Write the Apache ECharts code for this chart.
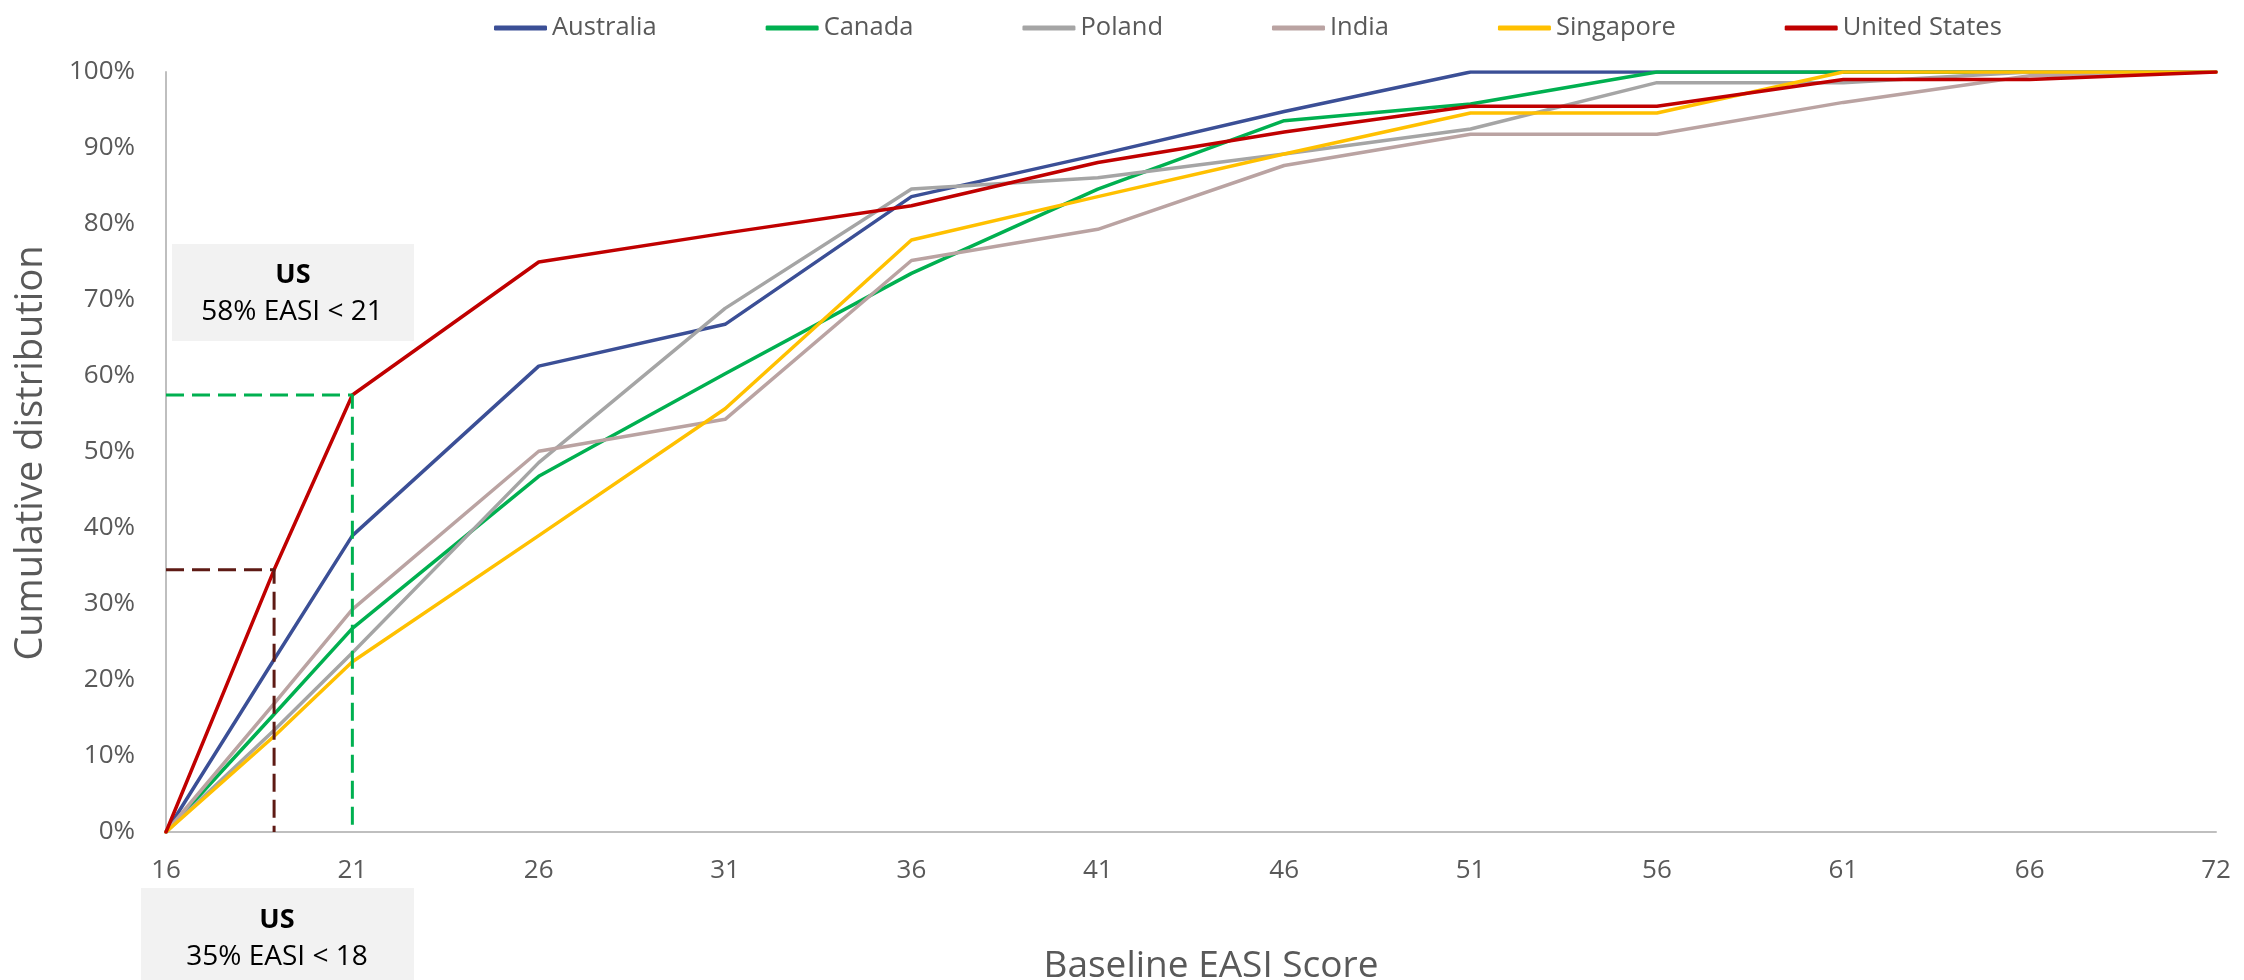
<!DOCTYPE html>
<html>
<head>
<meta charset="utf-8">
<title>Cumulative distribution of baseline EASI score</title>
<script src="https://cdn.jsdelivr.net/npm/echarts@6/dist/echarts.min.js"></script>
<style>
  html, body { margin: 0; padding: 0; background: #ffffff; }
  #chart { width: 2244px; height: 980px; }
</style>
</head>
<body>
<div id="chart"></div>
<script>
// Baseline EASI score at which each cumulative share is reached
const easiScores = [16, 18.9, 21, 26, 31, 36, 41, 46, 51, 56, 61, 66, 72];
// Labels shown along the x axis (evenly spaced)
const tickLabels = ['16', '21', '26', '31', '36', '41', '46', '51', '56', '61', '66', '72'];

const countries = ['Australia', 'Canada', 'Poland', 'India', 'Singapore', 'United States'];

// Cumulative distribution (fraction of patients) per country
const australia    = [0, 0.227, 0.390, 0.613, 0.668, 0.836, 0.891, 0.948, 1.000, 1.000, 1.000, 1.000, 1.000];
const canada       = [0, 0.155, 0.268, 0.468, 0.603, 0.735, 0.846, 0.936, 0.958, 1.000, 1.000, 1.000, 1.000];
const poland       = [0, 0.134, 0.236, 0.486, 0.689, 0.846, 0.861, 0.892, 0.925, 0.986, 0.986, 1.000, 1.000];
const india        = [0, 0.169, 0.293, 0.501, 0.543, 0.752, 0.793, 0.877, 0.918, 0.918, 0.960, 0.995, 1.000];
const singapore    = [0, 0.126, 0.224, 0.390, 0.557, 0.779, 0.836, 0.892, 0.946, 0.946, 1.000, 1.000, 1.000];
const unitedStates = [0, 0.345, 0.575, 0.750, 0.788, 0.824, 0.881, 0.921, 0.955, 0.955, 0.990, 0.990, 1.000];

const seriesValues = [australia, canada, poland, india, singapore, unitedStates];
const seriesColors = ['#3B4F96', '#00B050', '#A5A5A5', '#BAA3A2', '#FFC000', '#C00000'];

// Call-out texts
const upperNote = ['US', '58% EASI < 21'];
const lowerNote = ['US', '35% EASI < 18'];

const FONT = '"Open Sans", "Noto Sans", sans-serif';
const GREY_TEXT = '#595959';

// The axis places its labels at equal steps; scores in between are
// placed proportionally within the step that contains them.
const tickValues = tickLabels.map(Number);
function axisPos(score) {
  for (let i = 0; i < tickValues.length - 1; i++) {
    const a = tickValues[i], b = tickValues[i + 1];
    if (score >= a && score <= b) return i + (score - a) / (b - a);
  }
  return score < tickValues[0] ? 0 : tickValues.length - 1;
}

const chart = echarts.init(document.getElementById('chart'), null, { renderer: 'canvas' });

const lineSeries = countries.map((name, k) => ({
  name: name,
  type: 'line',
  data: easiScores.map((s, i) => [axisPos(s), seriesValues[k][i]]),
  showSymbol: false,
  symbol: 'none',
  smooth: false,
  lineStyle: { color: seriesColors[k], width: 3.5, cap: 'round', join: 'round' },
  itemStyle: { color: seriesColors[k] },
  emphasis: { disabled: true },
  animation: false,
  z: 2 + k * 0.01
}));

// Dashed guides to the US values at EASI 18 and 21
function guide(idx, color) {
  const x = axisPos(easiScores[idx]);
  const y = unitedStates[idx];
  return {
    name: 'guide-' + idx,
    type: 'line',
    data: [[0, y], [x, y], [x, 0]],
    showSymbol: false,
    symbol: 'none',
    lineStyle: { color: color, width: 3, type: [18, 8] },
    emphasis: { disabled: true },
    silent: true,
    animation: false,
    z: 3
  };
}

const option = {
  backgroundColor: '#ffffff',
  animation: false,
  textStyle: { fontFamily: FONT },
  grid: { left: 166, right: 28, top: 72, bottom: 148, containLabel: false },
  legend: {
    data: countries,
    left: 489,
    top: 10,
    itemGap: 109,
    itemWidth: 53,
    itemHeight: 5,
    icon: 'roundRect',
    textStyle: { fontFamily: FONT, fontSize: 25.5, color: GREY_TEXT, padding: [0, 0, 0, 0] },
    selectedMode: false
  },
  xAxis: {
    type: 'value',
    min: 0,
    max: tickLabels.length - 1,
    interval: 1,
    axisLine: { show: true, lineStyle: { color: '#BFBFBF', width: 2 } },
    axisTick: { show: false },
    splitLine: { show: false },
    axisLabel: {
      margin: 26,
      fontSize: 26,
      color: GREY_TEXT,
      fontFamily: FONT,
      formatter: v => tickLabels[Math.round(v)]
    }
  },
  yAxis: {
    type: 'value',
    min: 0,
    max: 1,
    interval: 0.1,
    axisLine: { show: true, lineStyle: { color: '#BFBFBF', width: 2 } },
    axisTick: { show: false },
    splitLine: { show: false },
    axisLabel: {
      margin: 31,
      fontSize: 26,
      color: GREY_TEXT,
      fontFamily: FONT,
      formatter: v => Math.round(v * 100) + '%'
    }
  },
  series: lineSeries.concat([
    guide(1, '#5E1A14'),
    guide(2, '#00B050')
  ]),
  graphic: [
    {
      type: 'text',
      x: 31, y: 453,
      rotation: Math.PI / 2,
      style: {
        text: 'Cumulative distribution',
        font: '38px ' + FONT,
        fill: GREY_TEXT,
        align: 'center',
        verticalAlign: 'middle'
      }
    },
    {
      type: 'text',
      x: 1211, y: 966,
      style: {
        text: 'Baseline EASI Score',
        font: '37px ' + FONT,
        fill: GREY_TEXT,
        align: 'center',
        verticalAlign: 'middle'
      }
    },
    // upper call-out
    {
      type: 'rect',
      shape: { x: 172, y: 244, width: 242, height: 97 },
      style: { fill: '#F2F2F2' },
      z: 10
    },
    {
      type: 'text', x: 293, y: 275, z: 11,
      style: { text: upperNote[0], font: 'bold 27px ' + FONT, fill: '#000000', align: 'center', verticalAlign: 'middle' }
    },
    {
      type: 'text', x: 292, y: 312, z: 11,
      style: { text: upperNote[1], font: '28px ' + FONT, fill: '#000000', align: 'center', verticalAlign: 'middle' }
    },
    // lower call-out
    {
      type: 'rect',
      shape: { x: 141, y: 888, width: 273, height: 92 },
      style: { fill: '#F2F2F2' },
      z: 10
    },
    {
      type: 'text', x: 277, y: 920, z: 11,
      style: { text: lowerNote[0], font: 'bold 27px ' + FONT, fill: '#000000', align: 'center', verticalAlign: 'middle' }
    },
    {
      type: 'text', x: 277, y: 957, z: 11,
      style: { text: lowerNote[1], font: '28px ' + FONT, fill: '#000000', align: 'center', verticalAlign: 'middle' }
    }
  ]
};

chart.setOption(option);
</script>
</body>
</html>
